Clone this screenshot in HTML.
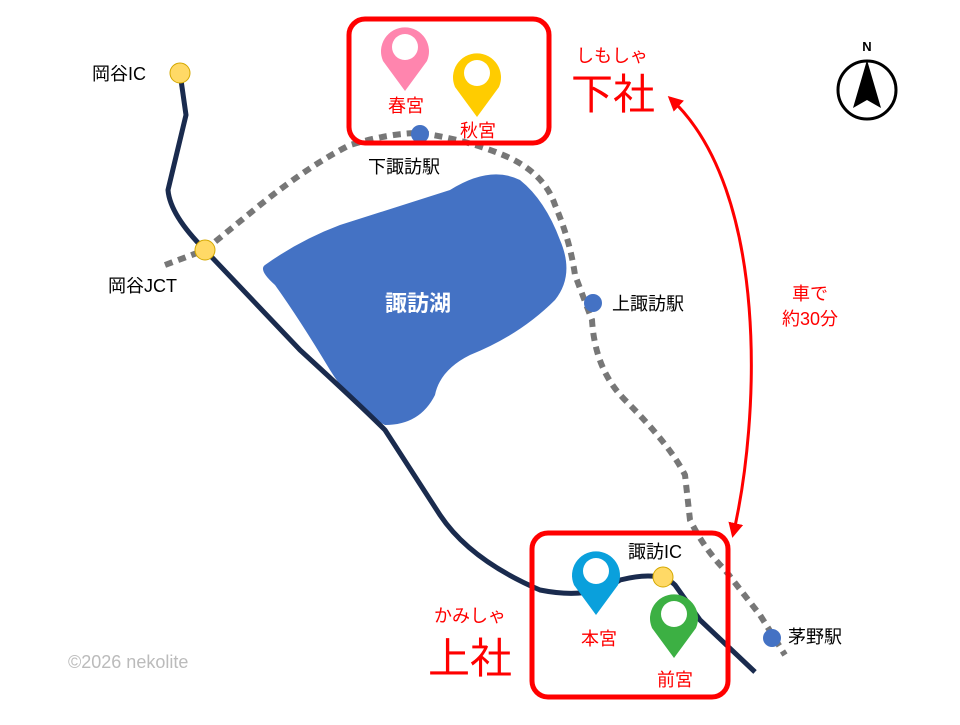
<!DOCTYPE html>
<html><head><meta charset="utf-8"><style>
body{margin:0;background:#fff}
text{font-family:"Liberation Sans","Noto Sans CJK JP",sans-serif}
</style></head><body>
<svg width="960" height="720" viewBox="0 0 960 720" xmlns="http://www.w3.org/2000/svg">
<defs>
<marker id="ah" viewBox="0 0 10 10" refX="8" refY="5" markerWidth="5" markerHeight="5" orient="auto-start-reverse"><path d="M0,0 L10,5 L0,10 Z" fill="#f00"/></marker>
<path id="pin" d="M-22,10 A24,24 0 1 1 22,10 L0,40 Z"/>
</defs>
<path d="M265,265 Q300,240 340,225 L450,190 Q490,165 520,180 Q545,200 560,240 Q575,275 555,300 Q520,335 470,355 Q440,370 435,395 Q420,425 385,425 Q355,410 330,370 Q300,320 275,285 Q258,270 265,265 Z" fill="#4472C4"/>
<text x="418" y="311" font-size="22" font-weight="bold" fill="#fff" text-anchor="middle">諏訪湖</text>
<path d="M180,73 L186,115 L168,190 Q170,215 205,250 L300,350 Q360,405 385,430 L440,515 Q470,560 540,590 Q590,600 620,580 Q660,570 675,585 L700,620 L755,672" fill="none" stroke="#1a2b4e" stroke-width="5" stroke-linejoin="round"/>
<path d="M165,265 L205,250 L260,205 Q310,165 350,145 Q390,133 420,133 Q470,140 510,158 Q545,175 555,205 Q570,240 575,275 L592,320 Q595,370 625,400 Q670,445 685,475 L690,520 Q705,550 725,570 L760,615 L785,655" fill="none" stroke="#777" stroke-width="6" stroke-dasharray="8,6"/>
<circle cx="180" cy="73" r="10" fill="#FFD966" stroke="#d4a800" stroke-width="1"/>
<circle cx="205" cy="250" r="10" fill="#FFD966" stroke="#d4a800" stroke-width="1"/>
<circle cx="663" cy="577" r="10" fill="#FFD966" stroke="#d4a800" stroke-width="1"/>
<circle cx="420" cy="134" r="9" fill="#4472C4"/>
<circle cx="593" cy="303" r="9" fill="#4472C4"/>
<circle cx="772" cy="638" r="9" fill="#4472C4"/>
<text x="92" y="80" font-size="18" fill="#000">岡谷IC</text>
<text x="108" y="292" font-size="18" fill="#000">岡谷JCT</text>
<text x="368" y="173" font-size="18" fill="#000">下諏訪駅</text>
<text x="612" y="310" font-size="18" fill="#000">上諏訪駅</text>
<text x="628" y="558" font-size="18" fill="#000">諏訪IC</text>
<text x="788" y="643" font-size="18" fill="#000">茅野駅</text>
<rect x="349" y="19" width="200" height="124" rx="16" fill="none" stroke="#f00" stroke-width="5"/>
<rect x="532" y="533" width="196" height="164" rx="16" fill="none" stroke="#f00" stroke-width="5"/>
<g transform="translate(405,51)"><use href="#pin" fill="#FF85AE"/><circle cx="0" cy="-4" r="13" fill="#fff"/></g>
<g transform="translate(477,77)"><use href="#pin" fill="#FFCC00"/><circle cx="0" cy="-4" r="13" fill="#fff"/></g>
<g transform="translate(596,575)"><use href="#pin" fill="#0AA0DC"/><circle cx="0" cy="-4" r="13" fill="#fff"/></g>
<g transform="translate(674,618)"><use href="#pin" fill="#3CB043"/><circle cx="0" cy="-4" r="13" fill="#fff"/></g>
<text x="406" y="112" font-size="18" fill="#f00" text-anchor="middle">春宮</text>
<text x="478" y="137" font-size="18" fill="#f00" text-anchor="middle">秋宮</text>
<text x="599" y="645" font-size="18" fill="#f00" text-anchor="middle">本宮</text>
<text x="675" y="686" font-size="18" fill="#f00" text-anchor="middle">前宮</text>
<text x="612" y="62" font-size="18" fill="#f00" text-anchor="middle">しもしゃ</text>
<text x="613" y="109" font-size="42" fill="#f00" text-anchor="middle">下社</text>
<text x="470" y="622" font-size="18" fill="#f00" text-anchor="middle">かみしゃ</text>
<text x="470" y="673" font-size="42" fill="#f00" text-anchor="middle">上社</text>
<path d="M670,98 C770,190 760,420 733,535" fill="none" stroke="#f00" stroke-width="3" marker-start="url(#ah)" marker-end="url(#ah)"/>
<text x="810" y="300" font-size="18" fill="#f00" text-anchor="middle">車で</text>
<text x="810" y="325" font-size="18" fill="#f00" text-anchor="middle">約30分</text>
<circle cx="867" cy="90" r="29" fill="none" stroke="#000" stroke-width="3"/>
<path d="M867,60 L881,108 L867,100 L853,108 Z" fill="#000"/>
<text x="867" y="51" font-size="13" font-weight="bold" text-anchor="middle" fill="#000">N</text>
<text x="68" y="668" font-size="18" fill="#bbb">©2026 nekolite</text>
</svg>
</body></html>
